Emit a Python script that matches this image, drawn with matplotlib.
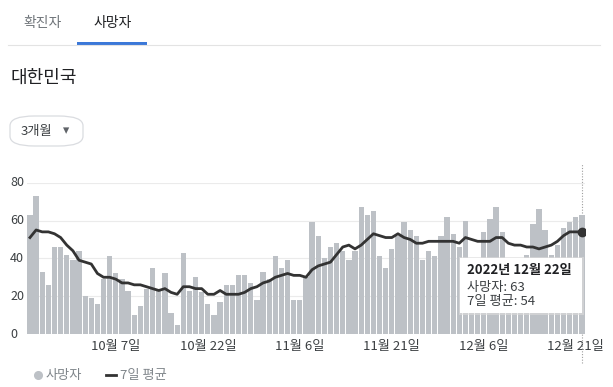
import numpy as np
import pandas as pd
import matplotlib
matplotlib.use('Agg')
import matplotlib.pyplot as plt
from matplotlib.patches import FancyBboxPatch, Rectangle
from matplotlib.lines import Line2D

plt.rcParams['font.family'] = ['Noto Sans CJK KR', 'DejaVu Sans']

# daily data, 2022-09-23 .. 2022-12-22
dates = pd.date_range('2022-09-23', '2022-12-22', freq='D')
deaths = [63, 73, 33, 26, 46, 46, 42, 39, 44, 20,
          19, 16, 29, 41, 32, 29, 23, 10, 15, 24,
          35, 24, 32, 11, 5, 43, 23, 30, 22, 16,
          10, 17, 26, 26, 31, 31, 27, 18, 33, 29,
          41, 35, 39, 18, 18, 30, 59, 52, 40, 46,
          48, 44, 39, 44, 67, 63, 65, 41, 35, 45,
          52, 59, 55, 52, 39, 44, 41, 52, 62, 53,
          46, 60, 36, 34, 54, 61, 67, 54, 30, 32,
          34, 42, 58, 66, 55, 42, 47, 56, 59, 62, 63]
avg7 = [51, 55, 54, 54, 53, 51, 47, 44, 39, 38,
        37, 32, 30, 30, 29, 27, 27, 26, 26, 25,
        24, 23, 24, 22, 21, 25, 25, 24, 24, 21,
        21, 23, 21, 21, 21, 22, 24, 25, 27, 28,
        30, 31, 32, 31, 31, 30, 34, 36, 37, 38,
        42, 46, 47, 45, 47, 50, 53, 52, 51, 51,
        53, 51, 50, 48, 48, 49, 49, 49, 49, 49,
        48, 51, 50, 49, 49, 49, 51, 51, 48, 47,
        47, 46, 46, 45, 46, 47, 49, 52, 54, 54, 54]
tick_dates = ['2022-10-07', '2022-10-22', '2022-11-06',
              '2022-11-21', '2022-12-06', '2022-12-21']
y_ticks = [0, 20, 40, 60, 80]

W, H = 613, 387
fig = plt.figure(figsize=(W / 100, H / 100), dpi=100)
fig.patch.set_facecolor('white')

def fx(x):
    return x / W

def fy(y):
    return 1 - y / H

# header: tabs, title, period button
fig.text(fx(43), fy(23), '확진자', fontsize=10, color='#70757a', ha='center', va='center')
fig.text(fx(113), fy(23), '사망자', fontsize=10, color='#202124', ha='center', va='center')
fig.add_artist(Line2D([fx(8), fx(600)], [fy(45), fy(45)], color='#e3e3e3', lw=0.8))
fig.add_artist(Rectangle((fx(77), fy(45)), fx(70), 3 / H, color='#3b78d8', lw=0))
fig.text(fx(10), fy(78), '대한민국', fontsize=13, color='#202124', ha='left', va='center')
fig.add_artist(FancyBboxPatch((fx(10), fy(146)), fx(73), 30 / H,
                              boxstyle='round,pad=0,rounding_size=0.04',
                              fc='white', ec='#dadce0', lw=0.9,
                              mutation_aspect=H / W))
fig.text(fx(21), fy(131), '3개월', fontsize=9.5, color='#3c4043', ha='left', va='center')
fig.text(fx(66), fy(131), '▾', fontsize=9, color='#5f6368', ha='center', va='center',
         family=['DejaVu Sans'])

# chart area
x = np.arange(len(dates))
left_px, right_px = 26.9, 585.0
bot_px, top_px = 334.0, 182.7
ax = fig.add_axes([fx(left_px), fy(bot_px), fx(right_px - left_px), (bot_px - top_px) / H])
ax.bar(x, deaths, width=0.86, color='#bdc1c6', zorder=2)
ax.plot(x, avg7, color='#333333', lw=2.0, zorder=3, solid_joinstyle='round')
ax.plot(x[-1], avg7[-1], 'o', color='#333333', ms=6, zorder=4)
ax.set_xlim(-0.5, len(dates) - 0.5)
ax.set_ylim(0, 80)
for s in ax.spines.values():
    s.set_visible(False)
ax.set_yticks(y_ticks)
ax.yaxis.grid(True, color='#ebebeb', lw=0.8)
ax.set_axisbelow(True)
ax.tick_params(axis='y', length=0, labelleft=False)
for v in y_ticks:
    ax.text((10 - left_px) / (right_px - left_px), v, str(v), transform=ax.get_yaxis_transform(),
            fontsize=9, color='#3c4043', ha='left', va='center')
tick_pos = [dates.get_loc(pd.Timestamp(d)) for d in tick_dates]
ax.set_xticks(tick_pos)
ax.set_xticklabels([f'{pd.Timestamp(d).month}월 {pd.Timestamp(d).day}일' for d in tick_dates],
                   fontsize=9.5, color='#3c4043')
ax.tick_params(axis='x', length=0, pad=4)

# hover line
ax.axvline(x[-1], ymin=-0.19, ymax=1.13, color='#9e9e9e', lw=0.8, ls=(0, (1, 1.5)),
           clip_on=False, zorder=1)

# tooltip
fig.add_artist(Rectangle((fx(459), fy(314.5)), fx(124.5), 57.5 / H, fc='#dddddd', ec='none', alpha=0.6))
fig.add_artist(Rectangle((fx(460), fy(313.3)), fx(122), 55 / H, fc='white', ec='none'))
last = dates[-1]
fig.text(fx(467), fy(270), f'{last.year}년 {last.month}월 {last.day}일', fontsize=9.5,
         fontweight='bold', color='#202124', ha='left', va='center')
fig.text(fx(467), fy(287), f'사망자: {deaths[-1]}', fontsize=9.5, color='#3c4043',
         ha='left', va='center')
fig.text(fx(467), fy(302), f'7일 평균: {avg7[-1]}', fontsize=9.5, color='#3c4043',
         ha='left', va='center')

# legend
fig.add_artist(Line2D([fx(38)], [fy(375)], marker='o', ms=5.5, color='#bdc1c6', lw=0))
fig.text(fx(46), fy(375), '사망자', fontsize=9.5, color='#80868b', ha='left', va='center')
fig.add_artist(Line2D([fx(106), fx(116)], [fy(375), fy(375)], color='#333333', lw=2))
fig.text(fx(120), fy(375), '7일 평균', fontsize=9.5, color='#80868b', ha='left', va='center')

fig.savefig('out.png', dpi=100)
